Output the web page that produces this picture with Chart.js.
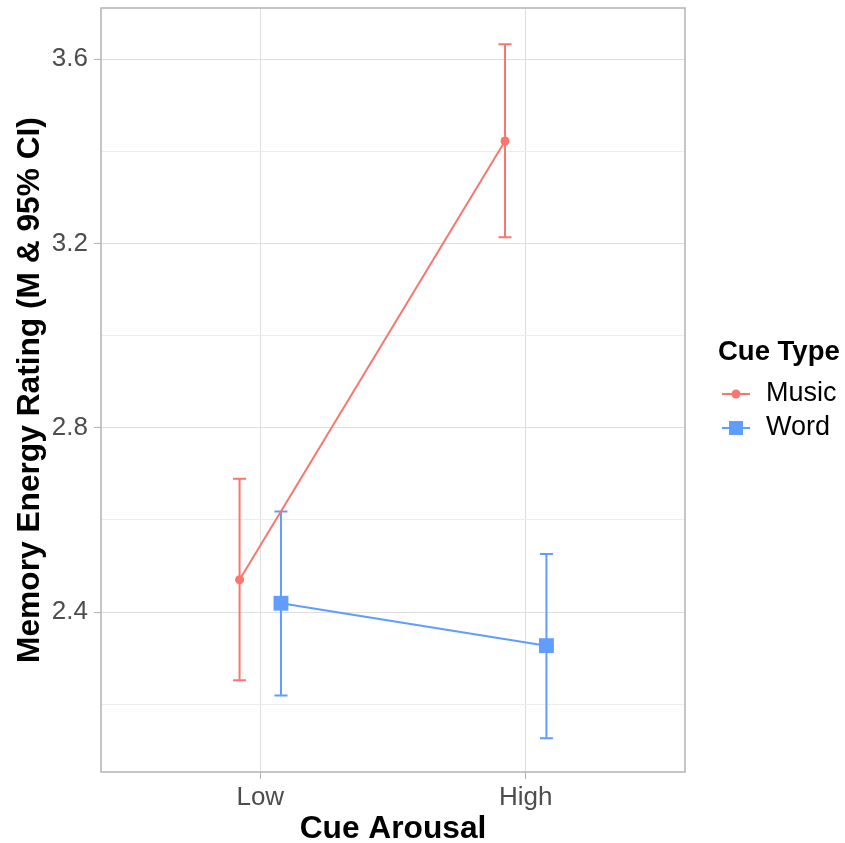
<!DOCTYPE html>
<html>
<head>
<meta charset="utf-8">
<script src="https://cdn.jsdelivr.net/npm/chart.js@4"></script>
<style>
  html, body { margin: 0; padding: 0; background: #fff; }
  #wrap { width: 845px; height: 843px; }
</style>
</head>
<body>
<div id="wrap"><canvas id="chart"></canvas></div>
<script>
const arousalLevels = ["Low", "High"];
const cueTypes = ["Music", "Word"];

const musicMean = [2.47, 3.422];
const musicLower = [2.252, 3.213];
const musicUpper = [2.689, 3.632];

const wordMean = [2.419, 2.327];
const wordLower = [2.219, 2.126];
const wordUpper = [2.618, 2.526];

const yMajor = [2.4, 2.8, 3.2, 3.6];
const yMinor = [2.2, 2.6, 3.0, 3.4];

const colors = { Music: "#F8766D", Word: "#619CFF" };
const dodge = 0.078;
const FONT = "'Liberation Sans', Arial, sans-serif";

function puntos(medias, desplazamiento) {
  return medias.map((y, i) => ({ x: i + 1 + desplazamiento, y }));
}

const series = [
  { name: "Music", mean: musicMean, lo: musicLower, hi: musicUpper, off: -dodge, point: "circle", radius: 4.5 },
  { name: "Word", mean: wordMean, lo: wordLower, hi: wordUpper, off: dodge, point: "rect", radius: 10.5 },
];

// barras de error + borde del panel
const errorBars = {
  id: "errorBars",
  beforeDatasetsDraw(chart) {
    const { ctx, scales: { x, y } } = chart;
    ctx.save();
    ctx.lineWidth = 2;
    series.forEach((s) => {
      ctx.strokeStyle = colors[s.name];
      s.mean.forEach((_, i) => {
        const px = x.getPixelForValue(i + 1 + s.off);
        const top = y.getPixelForValue(s.hi[i]);
        const bot = y.getPixelForValue(s.lo[i]);
        ctx.beginPath();
        ctx.moveTo(px, top); ctx.lineTo(px, bot);
        ctx.moveTo(px - 6.5, top); ctx.lineTo(px + 6.5, top);
        ctx.moveTo(px - 6.5, bot); ctx.lineTo(px + 6.5, bot);
        ctx.stroke();
      });
    });
    ctx.restore();
  },
  afterDraw(chart) {
    const { ctx, chartArea: a } = chart;
    ctx.save();
    ctx.strokeStyle = "#b3b3b3";
    ctx.lineWidth = 1.5;
    ctx.strokeRect(a.left, a.top, a.right - a.left, a.bottom - a.top);
    ctx.restore();
  },
};

// leyenda a la derecha
const legendaDerecha = {
  id: "legendaDerecha",
  afterDraw(chart) {
    const { ctx } = chart;
    ctx.save();
    ctx.fillStyle = "#000";
    ctx.textBaseline = "middle";
    ctx.textAlign = "left";
    ctx.font = "bold 27.5px " + FONT;
    ctx.fillText("Cue Type", 718, 352);
    cueTypes.forEach((name, i) => {
      const cy = 394 + i * 34;
      const c = colors[name];
      ctx.strokeStyle = c;
      ctx.fillStyle = c;
      ctx.lineWidth = 2;
      ctx.beginPath();
      ctx.moveTo(722, cy); ctx.lineTo(750, cy);
      ctx.stroke();
      if (name === "Music") {
        ctx.beginPath();
        ctx.arc(736, cy, 4.5, 0, Math.PI * 2);
        ctx.fill();
      } else {
        ctx.fillRect(729, cy - 7, 14, 14);
      }
      ctx.fillStyle = "#000";
      ctx.font = "27px " + FONT;
      ctx.fillText(name, 766, cy);
    });
    ctx.restore();
  },
};

window.addEventListener("DOMContentLoaded", () => {
  const ctx = document.getElementById("chart").getContext("2d");
  new Chart(ctx, {
    type: "line",
    data: {
      datasets: series.map((s) => ({
        label: s.name,
        data: puntos(s.mean, s.off),
        borderColor: colors[s.name],
        backgroundColor: colors[s.name],
        borderWidth: 2,
        pointStyle: s.point,
        pointRadius: s.radius,
        pointHoverRadius: s.radius,
        pointBorderWidth: 0,
        fill: false,
        tension: 0,
      })),
    },
    options: {
      responsive: true,
      maintainAspectRatio: false,
      animation: false,
      layout: { autoPadding: false, padding: { left: 0, right: 160, top: 8, bottom: 0 } },
      plugins: {
        legend: { display: false },
        tooltip: { enabled: false },
      },
      scales: {
        x: {
          type: "linear",
          min: 0.4,
          max: 2.6,
          afterBuildTicks: (scale) => {
            scale.ticks = arousalLevels.map((_, i) => ({ value: i + 1 }));
          },
          afterFit: (scale) => {
            scale.height = 71;
            scale.paddingLeft = 0;
            scale.paddingRight = 0;
          },
          border: { display: false },
          grid: { color: "#dedede", lineWidth: 1, tickLength: 7, tickColor: "#b3b3b3" },
          ticks: {
            callback: (v) => arousalLevels[Math.round(v) - 1],
            color: "#4d4d4d",
            font: { family: FONT, size: 26 },
            padding: 3,
            maxRotation: 0,
          },
          title: {
            display: true,
            text: "Cue Arousal",
            color: "#000",
            font: { family: FONT, size: 31.7, weight: "bold", lineHeight: 1 },
            padding: { top: 0, bottom: -2 },
          },
        },
        y: {
          type: "linear",
          min: 2.0528,
          max: 3.7107,
          afterBuildTicks: (scale) => {
            scale.ticks = yMinor.concat(yMajor).sort((a, b) => a - b).map((v) => ({ value: v }));
          },
          afterFit: (scale) => {
            scale.width = 101;
            scale.paddingTop = 0;
            scale.paddingBottom = 0;
          },
          border: { display: false },
          grid: {
            color: (c) => (yMajor.some((m) => Math.abs(m - c.tick.value) < 1e-6) ? "#dedede" : "#ececec"),
            lineWidth: 1,
            tickLength: 7,
            tickColor: (c) => (yMajor.some((m) => Math.abs(m - c.tick.value) < 1e-6) ? "#b3b3b3" : "rgba(0,0,0,0)"),
          },
          ticks: {
            callback: (v) => (yMajor.some((m) => Math.abs(m - v) < 1e-6) ? v.toFixed(1) : ""),
            color: "#4d4d4d",
            font: { family: FONT, size: 26 },
            padding: 6,
          },
          title: {
            display: true,
            text: "Memory Energy Rating (M & 95% CI)",
            color: "#000",
            font: { family: FONT, size: 31.7, weight: "bold", lineHeight: 1 },
            padding: { top: 14, bottom: 0 },
          },
        },
      },
    },
    plugins: [errorBars, legendaDerecha],
  });
});
</script>
</body>
</html>
